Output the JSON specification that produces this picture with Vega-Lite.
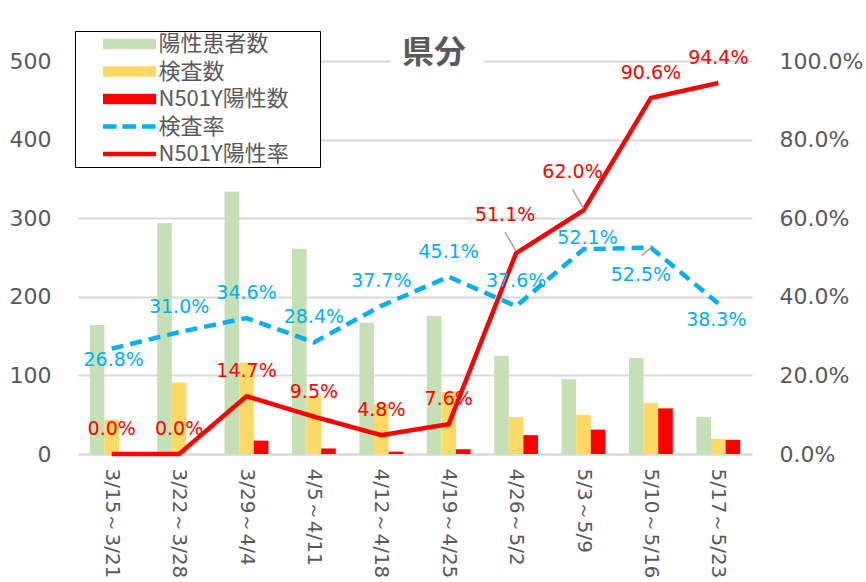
{
  "$schema": "https://vega.github.io/schema/vega-lite/v6.json",
  "width": 674,
  "height": 393,
  "autosize": {"type": "none"},
  "padding": {"left": 78, "top": 61, "right": 114, "bottom": 128},
  "background": "white",
  "title": {"text": "県分", "fontSize": 32, "font": "Noto Sans CJK JP", "fontWeight": "bold", "color": "#595959", "dx": 19, "offset": -39, "anchor": "middle"},
  "config": {
    "view": {"stroke": null},
    "font": "DejaVu Sans",
    "axisX": {"labelAngle": 90, "labelFontSize": 20, "labelFont": "DejaVu Sans", "labelColor": "#595959", "labelPadding": 14, "ticks": false, "domainColor": "#D9D9D9", "domainWidth": 2, "title": null, "labelLimit": 300},
    "axisY": {"labelFontSize": 22, "labelFont": "DejaVu Sans", "labelColor": "#595959", "ticks": false, "domain": false, "title": null, "labelPadding": 27}
  },
  "data": {"values": [
    {"week": "3/15～3/21", "陽性患者数": 164, "検査数": 44, "N501Y陽性数": 0, "検査率": 0.268, "N501Y陽性率": 0.0},
    {"week": "3/22～3/28", "陽性患者数": 294, "検査数": 91, "N501Y陽性数": 0, "検査率": 0.310, "N501Y陽性率": 0.0},
    {"week": "3/29～4/4", "陽性患者数": 334, "検査数": 116, "N501Y陽性数": 17, "検査率": 0.346, "N501Y陽性率": 0.147},
    {"week": "4/5～4/11", "陽性患者数": 261, "検査数": 74, "N501Y陽性数": 7, "検査率": 0.284, "N501Y陽性率": 0.095},
    {"week": "4/12～4/18", "陽性患者数": 167, "検査数": 63, "N501Y陽性数": 3, "検査率": 0.377, "N501Y陽性率": 0.048},
    {"week": "4/19～4/25", "陽性患者数": 176, "検査数": 79, "N501Y陽性数": 6, "検査率": 0.451, "N501Y陽性率": 0.076},
    {"week": "4/26～5/2", "陽性患者数": 125, "検査数": 47, "N501Y陽性数": 24, "検査率": 0.376, "N501Y陽性率": 0.511},
    {"week": "5/3～5/9", "陽性患者数": 95, "検査数": 50, "N501Y陽性数": 31, "検査率": 0.521, "N501Y陽性率": 0.620},
    {"week": "5/10～5/16", "陽性患者数": 122, "検査数": 65, "N501Y陽性数": 58, "検査率": 0.525, "N501Y陽性率": 0.906},
    {"week": "5/17～5/23", "陽性患者数": 47, "検査数": 19, "N501Y陽性数": 18, "検査率": 0.383, "N501Y陽性率": 0.944}
  ]},
  "layer": [
    {
      "transform": [{"fold": ["陽性患者数", "検査数", "N501Y陽性数"], "as": ["series", "value"]}],
      "mark": {"type": "bar"},
      "encoding": {
        "x": {"field": "week", "type": "nominal", "sort": null, "scale": {"paddingInner": 0.35, "paddingOuter": 0.175}},
        "xOffset": {"field": "series", "type": "nominal", "sort": ["陽性患者数", "検査数", "N501Y陽性数"], "scale": {"paddingInner": 0, "paddingOuter": 0}},
        "y": {"field": "value", "type": "quantitative", "scale": {"domain": [0, 500]}, "axis": {"values": [0, 100, 200, 300, 400, 500], "grid": true, "gridColor": "#D9D9D9", "gridWidth": 2, "gridDash": {"condition": {"test": "datum.value === 500", "value": [312, 93, 400]}, "value": []}}},
        "color": {
          "field": "series", "type": "nominal",
          "scale": {"domain": ["陽性患者数", "検査数", "N501Y陽性数", "検査率", "N501Y陽性率"], "range": ["#C5E0B4", "#FFD966", "#FF0000", "#00B0F0", "#FF0000"]},
          "legend": {
            "title": null, "orient": "none", "legendX": -3, "legendY": -30,
            "symbolType": "square", "symbolSize": 400, "symbolStrokeWidth": 0,
            "labelFontSize": 22, "labelColor": "#595959", "labelFont": "Noto Sans CJK JP", "labelOffset": 18, "labelLimit": 400,
            "rowPadding": 5.5, "padding": 2, "symbolOffset": 41.5,
            "strokeColor": "black", "fillColor": "white", "cornerRadius": 0,
            "encode": {"symbols": {"update": {
              "shape": {"signal": "datum.value === '検査率' ? 'M-2.65,-0.22H-1.3V0.22H-2.65Z M-0.7,-0.22H0.65V0.22H-0.7Z M1.25,-0.22H2.6V0.22H1.25Z M18.85,0' : datum.value === 'N501Y陽性率' ? 'M-2.65,-0.22H2.65V0.22H-2.65Z M18.85,0' : 'M-2.65,-0.53H2.65V0.53H-2.65Z M18.85,0'"},
              "fill": {"signal": "scale('color', datum.value)"},
              "stroke": {"value": "transparent"},
              "strokeWidth": {"value": 0},
              "opacity": {"value": 1}
            }}}
          }
        }
      }
    },
    {
      "layer": [
        {
          "transform": [{"fold": ["検査率", "N501Y陽性率"], "as": ["series", "value"]}],
          "mark": {"type": "line", "strokeWidth": 4.5},
          "encoding": {
            "x": {"field": "week", "type": "nominal", "sort": null},
            "y": {"field": "value", "type": "quantitative", "scale": {"domain": [0, 1]}, "axis": {"orient": "right", "format": ".1%", "values": [0, 0.2, 0.4, 0.6, 0.8, 1.0], "grid": false}},
            "color": {"field": "series", "type": "nominal"},
            "strokeDash": {"field": "series", "type": "nominal", "scale": {"domain": ["検査率", "N501Y陽性率"], "range": [[12, 7], [1, 0]]}, "legend": null}
          }
        },
        {
          "transform": [{"filter": "indexof(['4/26～5/2', '5/3～5/9'], datum.week) >= 0"}],
          "mark": {"type": "rule", "color": "#A6A6A6", "strokeWidth": 1.5, "xOffset": -11, "yOffset": -21, "x2Offset": 0, "y2Offset": -2},
          "encoding": {
            "x": {"field": "week", "type": "nominal", "sort": null},
            "x2": {"field": "week"},
            "y": {"field": "N501Y陽性率", "type": "quantitative"},
            "y2": {"field": "N501Y陽性率"}
          }
        },
        {
          "transform": [{"filter": "datum.week === '5/10～5/16'"}],
          "mark": {"type": "rule", "color": "#A6A6A6", "strokeWidth": 1.5, "xOffset": -9, "yOffset": 8, "x2Offset": 1, "y2Offset": -1},
          "encoding": {
            "x": {"field": "week", "type": "nominal", "sort": null},
            "x2": {"field": "week"},
            "y": {"field": "検査率", "type": "quantitative"},
            "y2": {"field": "検査率"}
          }
        },
        {
          "transform": [{"filter": "indexof(['4/26～5/2', '5/3～5/9'], datum.week) < 0"}],
          "mark": {"type": "text", "fontSize": 19, "font": "DejaVu Sans", "color": "#FF0000", "dy": -25},
          "encoding": {
            "x": {"field": "week", "type": "nominal", "sort": null},
            "y": {"field": "N501Y陽性率", "type": "quantitative"},
            "text": {"field": "N501Y陽性率", "type": "quantitative", "format": ".1%"}
          }
        },
        {
          "transform": [{"filter": "indexof(['4/26～5/2', '5/3～5/9'], datum.week) >= 0"}],
          "mark": {"type": "text", "fontSize": 19, "font": "DejaVu Sans", "color": "#FF0000", "dy": -38, "dx": -11},
          "encoding": {
            "x": {"field": "week", "type": "nominal", "sort": null},
            "y": {"field": "N501Y陽性率", "type": "quantitative"},
            "text": {"field": "N501Y陽性率", "type": "quantitative", "format": ".1%"}
          }
        },
        {
          "transform": [{"filter": "indexof(['3/15～3/21', '5/3～5/9', '5/10～5/16', '5/17～5/23'], datum.week) < 0"}],
          "mark": {"type": "text", "fontSize": 19, "font": "DejaVu Sans", "color": "#00B0F0", "dy": -25},
          "encoding": {
            "x": {"field": "week", "type": "nominal", "sort": null},
            "y": {"field": "検査率", "type": "quantitative"},
            "text": {"field": "検査率", "type": "quantitative", "format": ".1%"}
          }
        },
        {
          "transform": [{"filter": "datum.week === '5/3～5/9'"}],
          "mark": {"type": "text", "fontSize": 19, "font": "DejaVu Sans", "color": "#00B0F0", "dy": -11, "dx": 4},
          "encoding": {
            "x": {"field": "week", "type": "nominal", "sort": null},
            "y": {"field": "検査率", "type": "quantitative"},
            "text": {"field": "検査率", "type": "quantitative", "format": ".1%"}
          }
        },
        {
          "transform": [{"filter": "datum.week === '3/15～3/21'"}],
          "mark": {"type": "text", "fontSize": 19, "font": "DejaVu Sans", "color": "#00B0F0", "dy": 11, "dx": 2},
          "encoding": {
            "x": {"field": "week", "type": "nominal", "sort": null},
            "y": {"field": "検査率", "type": "quantitative"},
            "text": {"field": "検査率", "type": "quantitative", "format": ".1%"}
          }
        },
        {
          "transform": [{"filter": "datum.week === '5/10～5/16'"}],
          "mark": {"type": "text", "fontSize": 19, "font": "DejaVu Sans", "color": "#00B0F0", "dy": 27, "dx": -10},
          "encoding": {
            "x": {"field": "week", "type": "nominal", "sort": null},
            "y": {"field": "検査率", "type": "quantitative"},
            "text": {"field": "検査率", "type": "quantitative", "format": ".1%"}
          }
        },
        {
          "transform": [{"filter": "datum.week === '5/17～5/23'"}],
          "mark": {"type": "text", "fontSize": 19, "font": "DejaVu Sans", "color": "#00B0F0", "dy": 17, "dx": -2},
          "encoding": {
            "x": {"field": "week", "type": "nominal", "sort": null},
            "y": {"field": "検査率", "type": "quantitative"},
            "text": {"field": "検査率", "type": "quantitative", "format": ".1%"}
          }
        }
      ]
    }
  ],
  "resolve": {"scale": {"y": "independent"}}
}
